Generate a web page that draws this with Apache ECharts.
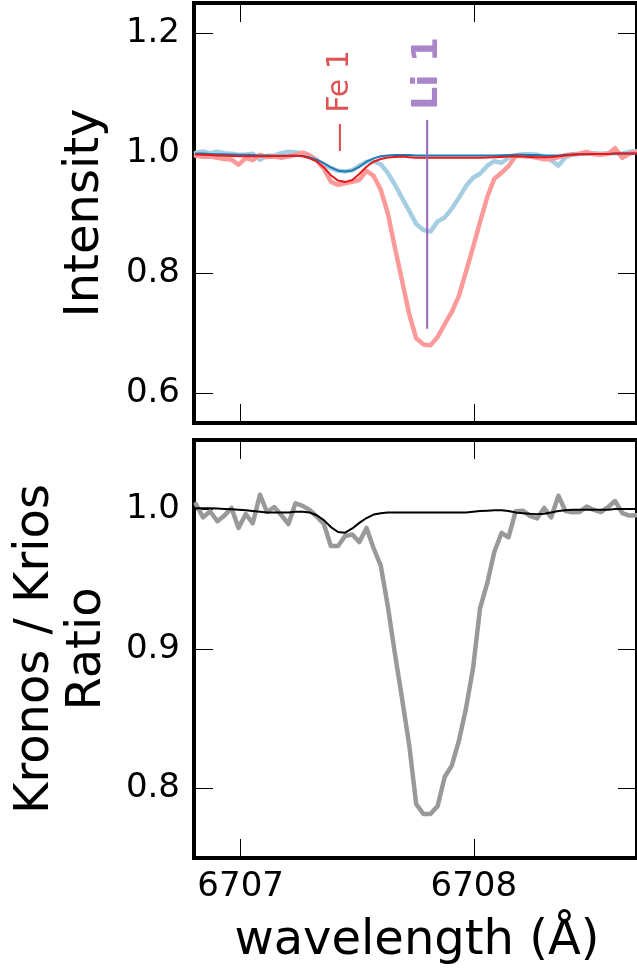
<!DOCTYPE html>
<html><head><meta charset="utf-8">
<script src="https://cdn.jsdelivr.net/npm/echarts@6/dist/echarts.min.js"></script>
<style>html,body{margin:0;padding:0;background:#fff}#c{width:637px;height:976px}</style>
</head><body><div id="c"></div>
<script>
// ---------- data ----------
const wavelength = [
 6706.808, 6706.839, 6706.869, 6706.900, 6706.930, 6706.961, 6706.991, 6707.022, 6707.052, 6707.083,
 6707.113, 6707.144, 6707.174, 6707.205, 6707.235, 6707.266, 6707.296, 6707.326, 6707.357, 6707.387,
 6707.418, 6707.448, 6707.479, 6707.509, 6707.540, 6707.570, 6707.601, 6707.631, 6707.662, 6707.692,
 6707.723, 6707.753, 6707.784, 6707.814, 6707.845, 6707.875, 6707.905, 6707.936, 6707.966, 6707.997,
 6708.027, 6708.058, 6708.088, 6708.119, 6708.149, 6708.180, 6708.210, 6708.241, 6708.271, 6708.302,
 6708.332, 6708.363, 6708.393, 6708.424, 6708.454, 6708.484, 6708.515, 6708.545, 6708.576, 6708.606,
 6708.637, 6708.667, 6708.698];

const kriosObs = [
 1.0005, 1.0027, 0.9997, 1.002, 0.9997, 0.9988, 0.997, 0.997, 0.9988, 0.9888,
 0.9955, 0.9955, 0.9997, 1.002, 1.0013, 0.9997, 0.9946, 0.988, 0.9804, 0.9746,
 0.9704, 0.9692, 0.9712, 0.9788, 0.9855, 0.9863, 0.9813, 0.967, 0.947, 0.9253,
 0.9035, 0.8818, 0.8717, 0.869, 0.886, 0.8926, 0.9069, 0.9253, 0.9445, 0.9587,
 0.9654, 0.9788, 0.9863, 0.9838, 0.9921, 0.9963, 0.998, 0.998, 0.9972, 0.9938,
 0.988, 0.979, 0.993, 0.9972, 0.9988, 0.9997, 0.9997, 0.9988, 0.9997, 0.9997,
 0.9988, 1.002, 1.003];

const kronosObs = [
 0.9955, 0.9938, 0.994, 0.992, 0.990, 0.989, 0.9805, 0.9916, 0.988, 0.997,
 0.9933, 0.994, 0.992, 0.994, 0.997, 1.0005, 0.9963, 0.988, 0.9737, 0.952,
 0.947, 0.9495, 0.952, 0.9554, 0.9704, 0.962, 0.9386, 0.900, 0.8416, 0.788,
 0.7313, 0.6911, 0.681, 0.6794, 0.6936, 0.7146, 0.7346, 0.7614, 0.8015, 0.8433,
 0.8851, 0.927, 0.957, 0.967, 0.978, 0.9955, 0.9946, 0.994, 0.992, 0.9896,
 0.990, 0.993, 0.9963, 0.998, 0.9988, 1.002, 0.998, 0.9972, 0.9988, 1.008,
 0.992, 0.9988, 1.002];

const kriosModel = [
 0.999, 0.999, 0.9985, 0.998, 0.998, 0.9975, 0.997, 0.997, 0.9965, 0.996,
 0.996, 0.9955, 0.9955, 0.9955, 0.9955, 0.995, 0.9925, 0.989, 0.983, 0.976,
 0.9705, 0.969, 0.971, 0.977, 0.9855, 0.991, 0.9945, 0.996, 0.9965, 0.9965,
 0.9965, 0.996, 0.996, 0.996, 0.996, 0.996, 0.996, 0.996, 0.996, 0.996,
 0.996, 0.996, 0.996, 0.9962, 0.9965, 0.997, 0.997, 0.9968, 0.9965, 0.996,
 0.9958, 0.996, 0.997, 0.9975, 0.998, 0.998, 0.9985, 0.9985, 0.9985, 0.999,
 0.999, 0.999, 0.999];

const kronosModel = [
 0.9975, 0.997, 0.9965, 0.996, 0.9955, 0.995, 0.9945, 0.9945, 0.9945, 0.9945,
 0.9945, 0.995, 0.995, 0.9955, 0.9955, 0.9945, 0.991, 0.986, 0.976, 0.963,
 0.954, 0.9515, 0.955, 0.965, 0.977, 0.9855, 0.990, 0.9925, 0.9935, 0.994,
 0.993, 0.992, 0.992, 0.992, 0.992, 0.992, 0.992, 0.992, 0.992, 0.992,
 0.992, 0.9925, 0.993, 0.9935, 0.994, 0.9945, 0.994, 0.9935, 0.993, 0.993,
 0.9935, 0.9945, 0.996, 0.997, 0.998, 0.998, 0.9985, 0.9985, 0.9985, 0.999,
 0.999, 0.999, 0.999];

const ratioObs = [
 1.0041, 0.9945, 0.9989, 0.9917, 0.9957, 1.0012, 0.9869, 0.9969, 0.9902, 1.0108,
 0.9983, 1.0019, 0.9962, 0.9897, 1.0045, 1.0027, 0.9998, 0.9951, 0.9897, 0.9739,
 0.9739, 0.9811, 0.9822, 0.9768, 0.9869, 0.9725, 0.9598, 0.9309, 0.8964, 0.8648,
 0.8311, 0.7887, 0.7816, 0.7816, 0.7873, 0.8081, 0.8160, 0.8340, 0.8569, 0.8864,
 0.9294, 0.9474, 0.9696, 0.9833, 0.9802, 0.9989, 0.9993, 0.9955, 0.9937, 1.0012,
 0.9945, 1.0100, 0.9991, 0.9981, 0.9983, 1.0023, 0.9998, 0.9983, 1.0019, 1.0062,
 0.9976, 0.9958, 0.9960];

const ratioModel = [
 1.001, 1.001, 1.001, 1.0008, 1.0005, 1.0003, 1.0, 0.9995, 0.999, 0.9985,
 0.998, 0.998, 0.998, 0.998, 0.9985, 0.9985, 0.998, 0.996, 0.9925, 0.9875,
 0.984, 0.9835, 0.9865, 0.9905, 0.994, 0.9965, 0.9975, 0.998, 0.998, 0.998,
 0.998, 0.998, 0.998, 0.998, 0.998, 0.998, 0.998, 0.998, 0.998, 0.9985,
 0.999, 0.9993, 0.9995, 0.9995, 0.999, 0.998, 0.9975, 0.997, 0.9968, 0.997,
 0.998, 0.999, 0.9995, 1.0, 1.0, 1.0, 1.0, 1.0, 1.0, 1.0005,
 1.0005, 1.0005, 1.0005];

// line identifications
const liWave = 6707.80;
const liLineY = [0.707, 1.055];
const liLabelY = 1.072;
const liLabel = 'Li 1';
const feWave = 6707.426;
const feLabelY = 1.001;
const feLabel = '— Fe 1';

// axes
const xRange = [6706.8, 6708.7];
const xTicks = [6707, 6708];
const topRange = [0.55, 1.25];
const topTicks = [0.6, 0.8, 1.0, 1.2];
const botRange = [0.75, 1.05];
const botTicks = [0.8, 0.9, 1.0];

// ---------- chart ----------
const FONT = 'DejaVu Sans';
const zip = (xs, ys) => xs.map((x, i) => [x, ys[i]]);
const chart = echarts.init(document.getElementById('c'), null, {renderer: 'canvas'});

function xAx(gi, pos, labels) {
  return {
    gridIndex: gi, type: 'value', position: pos, min: xRange[0], max: xRange[1],
    axisLine: {show: false}, splitLine: {show: false},
    axisTick: {show: true, inside: true, length: 19, customValues: xTicks, lineStyle: {color: '#000', width: 1}},
    axisLabel: {show: labels, customValues: xTicks, fontSize: 34, fontFamily: FONT, color: '#000', margin: 12,
      formatter: v => String(Math.round(v))}
  };
}
function yAx(gi, pos, labels, range, ticks) {
  return {
    gridIndex: gi, type: 'value', position: pos, min: range[0], max: range[1],
    axisLine: {show: false}, splitLine: {show: false},
    axisTick: {show: true, inside: true, length: 19, customValues: ticks, lineStyle: {color: '#000', width: 1}},
    axisLabel: {show: labels, customValues: ticks, fontSize: 34, fontFamily: FONT, color: '#000', margin: 14,
      formatter: v => v.toFixed(1)}
  };
}
function line(xi, yi, ys, color, width, z) {
  return {type: 'line', xAxisIndex: xi, yAxisIndex: yi, data: zip(wavelength, ys), symbol: 'none',
    lineStyle: {color: color, width: width, join: 'round', cap: 'round'}, itemStyle: {color: color},
    z: z, animation: false, silent: true};
}

chart.setOption({
  animation: false,
  backgroundColor: '#fff',
  grid: [
    {left: 194, top: 3, width: 449, height: 420, show: true, borderColor: '#000', borderWidth: 4, backgroundColor: 'transparent'},
    {left: 194, top: 440, width: 449, height: 418, show: true, borderColor: '#000', borderWidth: 4, backgroundColor: 'transparent'}
  ],
  xAxis: [xAx(0, 'bottom', false), xAx(0, 'top', false), xAx(1, 'bottom', true), xAx(1, 'top', false)],
  yAxis: [yAx(0, 'left', true, topRange, topTicks), yAx(0, 'right', false, topRange, topTicks),
          yAx(1, 'left', true, botRange, botTicks), yAx(1, 'right', false, botRange, botTicks)],
  series: [
    line(0, 0, kriosObs, '#a6cee3', 4.5, 2),
    line(0, 0, kronosObs, '#fb9a99', 4.5, 3),
    line(0, 0, kriosModel, '#1f78b4', 2, 4),
    line(0, 0, kronosModel, '#e31a1c', 2, 5),
    {type: 'line', xAxisIndex: 0, yAxisIndex: 0, symbol: 'none', silent: true, z: 6,
      data: liLineY.map(y => [liWave, y]), lineStyle: {color: '#9467bd', width: 2}},
    {type: 'scatter', xAxisIndex: 0, yAxisIndex: 0, symbolSize: 0, silent: true, z: 7,
      data: [[liWave, liLabelY]],
      label: {show: true, position: 'inside', formatter: liLabel, rotate: 90, align: 'left', verticalAlign: 'middle',
        fontSize: 36, fontWeight: 'bold', fontFamily: FONT, color: '#9467bd'}},
    {type: 'scatter', xAxisIndex: 0, yAxisIndex: 0, symbolSize: 0, silent: true, z: 7,
      data: [[feWave, feLabelY]],
      label: {show: true, position: 'inside', formatter: feLabel, rotate: 90, align: 'left', verticalAlign: 'middle',
        fontSize: 30, fontFamily: FONT, color: '#d62728'}},
    line(2, 2, ratioObs, '#999999', 4.5, 2),
    line(2, 2, ratioModel, '#000000', 2, 3)
  ],
  graphic: [
    {type: 'text', x: 86, y: 213, rotation: Math.PI / 2,
      style: {text: 'Intensity', fontSize: 48, fontFamily: FONT, fill: '#000', align: 'center', verticalAlign: 'middle'}},
    {type: 'text', x: 36, y: 649, rotation: Math.PI / 2,
      style: {text: 'Kronos / Krios', fontSize: 48, fontFamily: FONT, fill: '#000', align: 'center', verticalAlign: 'middle'}},
    {type: 'text', x: 88, y: 649, rotation: Math.PI / 2,
      style: {text: 'Ratio', fontSize: 48, fontFamily: FONT, fill: '#000', align: 'center', verticalAlign: 'middle'}},
    {type: 'text', x: 417, y: 942,
      style: {text: 'wavelength (Å)', fontSize: 48, fontFamily: FONT, fill: '#000', align: 'center', verticalAlign: 'middle'}}
  ]
});
</script></body></html>
